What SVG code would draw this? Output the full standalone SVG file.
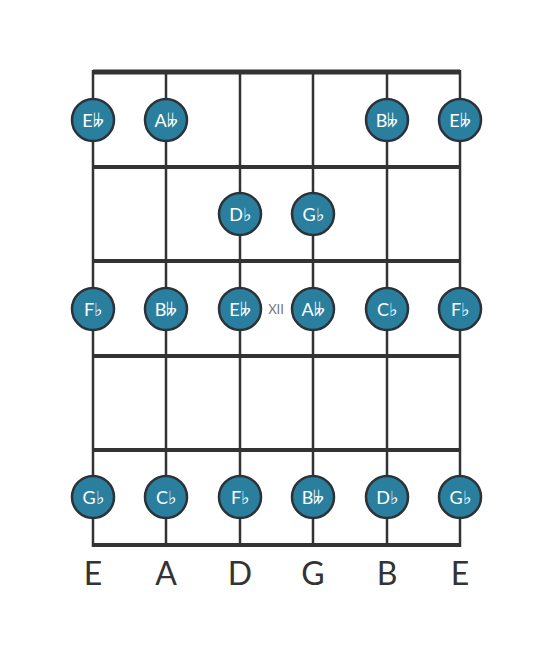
<svg xmlns="http://www.w3.org/2000/svg" width="553" height="656" viewBox="0 0 553 656">
<style>
.fret{stroke:#333;stroke-width:4;fill:none}
.str{stroke:#333;stroke-width:2.5;fill:none}
.dot circle{fill:#2a7f9e;stroke:#2b3238;stroke-width:2.5}
.dot text{fill:#fff;font-family:"Lato","Noto Sans",sans-serif;font-size:18px;text-anchor:middle;dominant-baseline:central}
.lbl{fill:#333;font-family:"Lato","Noto Sans",sans-serif;font-size:32px;text-anchor:middle}
.xii{fill:#777;font-family:"Lato","Noto Sans",sans-serif;font-size:13px;text-anchor:middle;dominant-baseline:central}
</style>
<rect width="553" height="656" fill="#fff"/>
<g id="connectors">
<line class="fret" x1="93" y1="72" x2="460" y2="72" style="stroke-width:5"/>
<line class="fret" x1="93" y1="167" x2="460" y2="167"/>
<line class="fret" x1="93" y1="261" x2="460" y2="261"/>
<line class="fret" x1="93" y1="356" x2="460" y2="356"/>
<line class="fret" x1="93" y1="450" x2="460" y2="450"/>
<line class="fret" x1="93" y1="545" x2="460" y2="545"/>
<line class="str" x1="93" y1="70" x2="93" y2="547"/>
<line class="str" x1="166" y1="70" x2="166" y2="547"/>
<line class="str" x1="240" y1="70" x2="240" y2="547"/>
<line class="str" x1="313" y1="70" x2="313" y2="547"/>
<line class="str" x1="387" y1="70" x2="387" y2="547"/>
<line class="str" x1="460" y1="70" x2="460" y2="547"/>
</g>
<text class="xii" x="276" y="309">XII</text>
<g id="n1" class="dot"><circle cx="93" cy="120" r="21"/><text x="93" y="120">E𝄫</text></g>
<g id="n2" class="dot"><circle cx="166" cy="120" r="21"/><text x="166" y="120">A𝄫</text></g>
<g id="n3" class="dot"><circle cx="387" cy="120" r="21"/><text x="387" y="120">B𝄫</text></g>
<g id="n4" class="dot"><circle cx="460" cy="120" r="21"/><text x="460" y="120">E𝄫</text></g>
<g id="n5" class="dot"><circle cx="240" cy="214" r="21"/><text x="240" y="214">D♭</text></g>
<g id="n6" class="dot"><circle cx="313" cy="214" r="21"/><text x="313" y="214">G♭</text></g>
<g id="n7" class="dot"><circle cx="93" cy="309" r="21"/><text x="93" y="309">F♭</text></g>
<g id="n8" class="dot"><circle cx="166" cy="309" r="21"/><text x="166" y="309">B𝄫</text></g>
<g id="n9" class="dot"><circle cx="240" cy="309" r="21"/><text x="240" y="309">E𝄫</text></g>
<g id="n10" class="dot"><circle cx="313" cy="309" r="21"/><text x="313" y="309">A𝄫</text></g>
<g id="n11" class="dot"><circle cx="387" cy="309" r="21"/><text x="387" y="309">C♭</text></g>
<g id="n12" class="dot"><circle cx="460" cy="309" r="21"/><text x="460" y="309">F♭</text></g>
<g id="n13" class="dot"><circle cx="93" cy="497" r="21"/><text x="93" y="497">G♭</text></g>
<g id="n14" class="dot"><circle cx="166" cy="497" r="21"/><text x="166" y="497">C♭</text></g>
<g id="n15" class="dot"><circle cx="240" cy="497" r="21"/><text x="240" y="497">F♭</text></g>
<g id="n16" class="dot"><circle cx="313" cy="497" r="21"/><text x="313" y="497">B𝄫</text></g>
<g id="n17" class="dot"><circle cx="387" cy="497" r="21"/><text x="387" y="497">D♭</text></g>
<g id="n18" class="dot"><circle cx="460" cy="497" r="21"/><text x="460" y="497">G♭</text></g>
<g id="labels">
<text class="lbl" x="93" y="585">E</text>
<text class="lbl" x="166" y="585">A</text>
<text class="lbl" x="240" y="585">D</text>
<text class="lbl" x="313" y="585">G</text>
<text class="lbl" x="387" y="585">B</text>
<text class="lbl" x="460" y="585">E</text>
</g>
</svg>
